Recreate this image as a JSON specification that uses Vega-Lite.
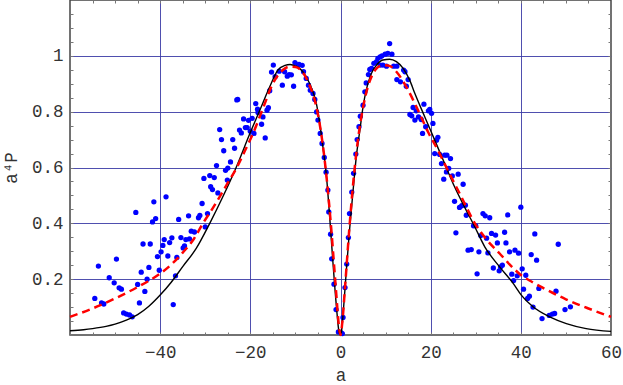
{
"$schema":"https://vega.github.io/schema/vega-lite/v6.json",
"width":541,"height":335,
"autosize":{"type":"none"},
"padding":{"left":70,"top":0,"right":12,"bottom":50},
"background":"white",
"config":{"view":{"stroke":"#444","strokeWidth":1.5},
 "axis":{"labelFont":"Liberation Mono","labelFontSize":17.5,"labelColor":"#333","titleFont":"Liberation Mono","titleFontSize":17.5,"titleColor":"#333","titleFontWeight":"normal","domain":false,"tickColor":"#777","tickSize":-3,"gridColor":"#3c3ca6","gridWidth":1,"labelFlush":false,"labelOverlap":false,"labelBound":false}},
"datasets":{
"pts":[
{"a":-54.5,"v":0.131},{"a":-53.7,"v":0.247},{"a":-53.0,"v":0.115},{"a":-52.5,"v":0.111},{"a":-51.3,"v":0.205},{"a":-49.7,"v":0.272},{"a":-50.2,"v":0.187},{"a":-49.1,"v":0.169},{"a":-48.6,"v":0.164},{"a":-48.1,"v":0.079},{"a":-47.5,"v":0.075},{"a":-46.8,"v":0.072},{"a":-46.2,"v":0.065},{"a":-45.4,"v":0.439},{"a":-45.0,"v":0.181},{"a":-44.6,"v":0.115},{"a":-44.2,"v":0.225},{"a":-43.8,"v":0.326},{"a":-43.4,"v":0.156},{"a":-42.9,"v":0.2},{"a":-42.5,"v":0.242},{"a":-42.2,"v":0.326},{"a":-41.7,"v":0.405},{"a":-41.4,"v":0.477},{"a":-41.0,"v":0.417},{"a":-40.6,"v":0.281},{"a":-40.2,"v":0.232},{"a":-39.8,"v":0.298},{"a":-39.4,"v":0.321},{"a":-39.1,"v":0.342},{"a":-38.7,"v":0.495},{"a":-38.3,"v":0.283},{"a":-37.9,"v":0.331},{"a":-37.4,"v":0.348},{"a":-37.1,"v":0.109},{"a":-36.6,"v":0.212},{"a":-36.3,"v":0.278},{"a":-35.9,"v":0.414},{"a":-35.4,"v":0.349},{"a":-34.9,"v":0.312},{"a":-34.6,"v":0.319},{"a":-34.3,"v":0.342},{"a":-33.7,"v":0.427},{"a":-33.5,"v":0.344},{"a":-33.1,"v":0.372},{"a":-32.4,"v":0.369},{"a":-31.5,"v":0.42},{"a":-31.2,"v":0.428},{"a":-30.7,"v":0.471},{"a":-30.0,"v":0.387},{"a":-29.5,"v":0.435},{"a":-28.8,"v":0.531},{"a":-28.4,"v":0.521},{"a":-27.2,"v":0.509},{"a":-25.1,"v":0.555},
{"a":-30.3,"v":0.561},{"a":-29.0,"v":0.571},{"a":-28.0,"v":0.564},{"a":-27.5,"v":0.607},{"a":-26.8,"v":0.736},{"a":-26.4,"v":0.7},{"a":-25.9,"v":0.66},{"a":-25.5,"v":0.59},{"a":-25.0,"v":0.598},{"a":-24.4,"v":0.62},{"a":-23.9,"v":0.7},{"a":-23.5,"v":0.669},{"a":-23.0,"v":0.842},{"a":-22.8,"v":0.844},{"a":-22.4,"v":0.734},{"a":-22.0,"v":0.724},{"a":-21.5,"v":0.774},{"a":-21.1,"v":0.743},{"a":-20.7,"v":0.743},{"a":-20.4,"v":0.769},{"a":-20.0,"v":0.73},{"a":-19.6,"v":0.776},{"a":-19.2,"v":0.722},{"a":-18.8,"v":0.829},{"a":-18.4,"v":0.809},{"a":-18.3,"v":0.797},{"a":-17.5,"v":0.755},{"a":-17.2,"v":0.781},{"a":-16.7,"v":0.706},{"a":-16.3,"v":0.805},{"a":-16.0,"v":0.814},{"a":-15.7,"v":0.875},{"a":-15.3,"v":0.942},{"a":-14.9,"v":0.967},{"a":-14.5,"v":0.925},{"a":-13.6,"v":0.945},{"a":-12.9,"v":0.895},{"a":-12.4,"v":0.943},{"a":-11.8,"v":0.927},{"a":-11.4,"v":0.933},{"a":-10.9,"v":0.932},{"a":-10.4,"v":0.891},{"a":-10.1,"v":0.976},{"a":-9.4,"v":0.967},
{"a":-9.2,"v":0.969},{"a":-8.5,"v":0.966},{"a":-8.2,"v":0.943},{"a":-7.6,"v":0.919},{"a":-7.1,"v":0.895},{"a":-6.7,"v":0.877},{"a":-6.1,"v":0.865},{"a":-5.7,"v":0.844},{"a":-5.3,"v":0.799},{"a":-5.0,"v":0.77},{"a":-4.5,"v":0.722},{"a":-4.1,"v":0.686},{"a":-3.6,"v":0.636},{"a":-3.2,"v":0.583},{"a":-2.8,"v":0.519},{"a":-2.6,"v":0.441},{"a":-2.2,"v":0.361},{"a":-1.95,"v":0.273},{"a":-1.44,"v":0.182},{"a":-0.99,"v":0.091},{"a":-0.47,"v":0.011},{"a":0.1,"v":0.008},{"a":0.4,"v":0.005},
{"a":0.56,"v":0.063},{"a":1.0,"v":0.17},{"a":1.38,"v":0.254},{"a":1.75,"v":0.349},{"a":2.0,"v":0.435},{"a":2.5,"v":0.512},{"a":2.9,"v":0.579},{"a":3.4,"v":0.648},{"a":3.7,"v":0.7},{"a":4.1,"v":0.746},{"a":4.4,"v":0.784},{"a":5.0,"v":0.823},{"a":5.4,"v":0.871},{"a":5.7,"v":0.903},{"a":6.2,"v":0.933},{"a":6.5,"v":0.951},{"a":6.9,"v":0.955},{"a":7.4,"v":0.973},{"a":8.0,"v":0.979},{"a":8.3,"v":0.991},{"a":8.8,"v":0.996},{"a":9.2,"v":1.0},{"a":9.9,"v":1.006},{"a":10.5,"v":1.009},{"a":10.9,"v":1.044},{"a":11.4,"v":1.006},{"a":8.8,"v":0.967},{"a":9.4,"v":0.967},{"a":10.2,"v":0.963},{"a":11.8,"v":0.963},{"a":12.5,"v":0.963},{"a":12.5,"v":0.915},{"a":13.3,"v":0.907},{"a":14.0,"v":0.949},{"a":14.3,"v":0.943},{"a":14.6,"v":0.891},{"a":15.0,"v":0.915},{"a":15.4,"v":0.79},{"a":15.8,"v":0.785},{"a":16.1,"v":0.815},{"a":16.5,"v":0.77},{"a":16.8,"v":0.803},{"a":17.3,"v":0.781},{"a":17.9,"v":0.772},{"a":18.5,"v":0.827},{"a":18.2,"v":0.722},{"a":18.9,"v":0.746},{"a":19.5,"v":0.803},{"a":19.8,"v":0.808},{"a":20.2,"v":0.794},{"a":20.5,"v":0.758},{"a":21.3,"v":0.698},{"a":21.6,"v":0.708},{"a":20.9,"v":0.65},{"a":22.0,"v":0.647},{"a":22.4,"v":0.614},{"a":23.1,"v":0.644},{"a":23.6,"v":0.644},{"a":24.4,"v":0.632},{"a":24.0,"v":0.597},{"a":23.5,"v":0.584},{"a":22.9,"v":0.558},{"a":24.8,"v":0.57},{"a":26.1,"v":0.576},{"a":27.2,"v":0.54},
{"a":25.3,"v":0.479},{"a":25.6,"v":0.366},{"a":26.4,"v":0.457},{"a":26.9,"v":0.463},{"a":27.7,"v":0.465},{"a":27.9,"v":0.429},{"a":28.3,"v":0.304},{"a":29.0,"v":0.306},{"a":29.5,"v":0.391},{"a":30.0,"v":0.391},{"a":30.3,"v":0.219},{"a":30.7,"v":0.298},{"a":31.1,"v":0.356},{"a":31.6,"v":0.435},{"a":32.1,"v":0.427},{"a":32.4,"v":0.347},{"a":32.7,"v":0.294},{"a":33.1,"v":0.42},{"a":33.5,"v":0.364},{"a":33.9,"v":0.24},{"a":34.4,"v":0.358},{"a":34.8,"v":0.33},{"a":35.2,"v":0.23},{"a":35.5,"v":0.244},{"a":35.9,"v":0.25},{"a":36.4,"v":0.368},{"a":36.7,"v":0.33},{"a":37.1,"v":0.43},{"a":37.5,"v":0.298},{"a":38.0,"v":0.218},{"a":38.4,"v":0.195},{"a":38.7,"v":0.304},{"a":39.2,"v":0.212},{"a":39.5,"v":0.293},{"a":40.0,"v":0.458},{"a":40.3,"v":0.237},{"a":40.6,"v":0.164},{"a":41.1,"v":0.214},{"a":41.5,"v":0.131},{"a":41.9,"v":0.139},{"a":42.3,"v":0.288},{"a":42.7,"v":0.1},{"a":43.1,"v":0.362},{"a":43.5,"v":0.268},{"a":44.0,"v":0.167},{"a":44.7,"v":0.059},{"a":46.3,"v":0.07},{"a":47.0,"v":0.075},{"a":47.5,"v":0.077},{"a":47.8,"v":0.157},{"a":48.3,"v":0.325},{"a":49.8,"v":0.091},{"a":51.0,"v":0.101}
],
"black":[
{"a":-60,"v":0.015},{"a":-57,"v":0.019},{"a":-55,"v":0.023},{"a":-52,"v":0.031},{"a":-50,"v":0.039},{"a":-47.5,"v":0.053},{"a":-45,"v":0.073},{"a":-42.5,"v":0.103},{"a":-40,"v":0.143},{"a":-37.5,"v":0.19},{"a":-35,"v":0.245},{"a":-32,"v":0.31},{"a":-29,"v":0.4},{"a":-26.1,"v":0.495},{"a":-23.1,"v":0.602},{"a":-20.1,"v":0.722},{"a":-17.9,"v":0.805},{"a":-15.7,"v":0.889},{"a":-13.9,"v":0.949},{"a":-12.3,"v":0.966},{"a":-11.2,"v":0.969},{"a":-9.9,"v":0.963},{"a":-9.05,"v":0.955},{"a":-7.6,"v":0.925},{"a":-6.1,"v":0.871},{"a":-5.35,"v":0.829},{"a":-4.6,"v":0.758},{"a":-3.9,"v":0.674},{"a":-3.1,"v":0.566},{"a":-2.4,"v":0.423},{"a":-1.66,"v":0.256},{"a":-0.9,"v":0.101},{"a":-0.33,"v":0.011},{"a":0,"v":0},{"a":0.2,"v":0.011},{"a":0.7,"v":0.101},{"a":1.3,"v":0.232},{"a":2.0,"v":0.375},{"a":2.8,"v":0.519},{"a":3.5,"v":0.638},{"a":4.3,"v":0.734},{"a":5.0,"v":0.817},{"a":5.7,"v":0.877},{"a":6.85,"v":0.937},{"a":8.0,"v":0.967},{"a":9.4,"v":0.985},{"a":10.9,"v":0.988},{"a":12.4,"v":0.979},{"a":13.9,"v":0.955},{"a":15.35,"v":0.913},{"a":16.5,"v":0.865},{"a":18.7,"v":0.781},{"a":20.9,"v":0.698},{"a":23.1,"v":0.614},{"a":25.3,"v":0.531},{"a":27.5,"v":0.459},{"a":29.8,"v":0.387},{"a":32.0,"v":0.316},{"a":35.3,"v":0.244},{"a":38.3,"v":0.185},{"a":40.1,"v":0.143},{"a":42.7,"v":0.101},{"a":46.4,"v":0.065},{"a":50.1,"v":0.041},{"a":54.5,"v":0.023},{"a":60,"v":0.013}
],
"red":[
{"a":-60,"v":0.065},{"a":-55,"v":0.095},{"a":-50,"v":0.131},{"a":-45,"v":0.172},{"a":-40,"v":0.22},{"a":-37.5,"v":0.253},{"a":-35,"v":0.295},{"a":-32.5,"v":0.345},{"a":-30.5,"v":0.4},{"a":-28.5,"v":0.45},{"a":-26.8,"v":0.495},{"a":-25,"v":0.545},{"a":-23.1,"v":0.597},{"a":-21.2,"v":0.66},{"a":-19.4,"v":0.722},{"a":-17.2,"v":0.812},{"a":-15.0,"v":0.901},{"a":-12.8,"v":0.949},{"a":-11.3,"v":0.961},{"a":-10,"v":0.96},{"a":-9,"v":0.952},{"a":-8,"v":0.932},{"a":-7,"v":0.9},{"a":-6,"v":0.857},{"a":-5,"v":0.79},{"a":-4,"v":0.69},{"a":-3,"v":0.55},{"a":-2,"v":0.37},{"a":-1,"v":0.16},{"a":-0.4,"v":0.04},{"a":0,"v":0},{"a":0.4,"v":0.045},{"a":1,"v":0.17},{"a":2,"v":0.39},{"a":3,"v":0.575},{"a":4,"v":0.715},{"a":5,"v":0.815},{"a":6,"v":0.885},{"a":7,"v":0.93},{"a":8,"v":0.955},{"a":9,"v":0.965},{"a":10,"v":0.966},{"a":11,"v":0.963},{"a":12.4,"v":0.943},{"a":15.0,"v":0.877},{"a":17.2,"v":0.805},{"a":19.4,"v":0.728},{"a":21.6,"v":0.662},{"a":23.8,"v":0.59},{"a":26.8,"v":0.495},{"a":29.8,"v":0.4},{"a":32.5,"v":0.34},{"a":35.3,"v":0.292},{"a":37.5,"v":0.253},{"a":40,"v":0.215},{"a":42.5,"v":0.19},{"a":45,"v":0.168},{"a":50,"v":0.128},{"a":55,"v":0.095},{"a":60,"v":0.065}
]},
"layer":[
{"data":{"name":"pts"},
 "mark":{"type":"circle","size":28,"color":"#0000ff","opacity":1},
 "encoding":{
  "x":{"field":"a","type":"quantitative","scale":{"domain":[-60,60],"nice":false,"zero":false},
   "axis":{"orient":"bottom","title":"a","titlePadding":6,"labelPadding":11,"values":[-60,-55,-50,-45,-40,-35,-30,-25,-20,-15,-10,-5,0,5,10,15,20,25,30,35,40,45,50,55,60],
    "labelExpr":"(datum.value % 20 === 0 && datum.value > -60) ? datum.label : ''",
    "grid":true,"gridOpacity":{"condition":{"test":"datum.value % 20 === 0 && abs(datum.value) < 60","value":0.9},"value":0}}},
  "y":{"field":"v","type":"quantitative","scale":{"domain":[0,1.2],"nice":false,"zero":true},
   "axis":{"orient":"left","title":"a⁴P","titlePadding":11,"labelPadding":10,"values":[0,0.05,0.1,0.15,0.2,0.25,0.3,0.35,0.4,0.45,0.5,0.55,0.6,0.65,0.7,0.75,0.8,0.85,0.9,0.95,1,1.05,1.1,1.15],
    "labelExpr":"(datum.value > 0.1 && datum.value < 1.1 && abs(datum.value*5 - round(datum.value*5)) < 0.001) ? format(datum.value, '~g') : ''",
    "grid":true,"gridOpacity":{"condition":{"test":"datum.value > 0.1 && datum.value < 1.1 && abs(datum.value*5 - round(datum.value*5)) < 0.001","value":0.9},"value":0}}}}},
{"data":{"name":"black"},
 "mark":{"type":"line","interpolate":"monotone","color":"#000000","strokeWidth":1.4},
 "encoding":{
  "x":{"field":"a","type":"quantitative","axis":{"orient":"top","title":null,"labels":false,"grid":false,"values":[-55,-50,-45,-40,-35,-30,-25,-20,-15,-10,-5,0,5,10,15,20,25,30,35,40,45,50,55]}},
  "y":{"field":"v","type":"quantitative","axis":{"orient":"right","title":null,"labels":false,"grid":false,"values":[0.05,0.1,0.15,0.2,0.25,0.3,0.35,0.4,0.45,0.5,0.55,0.6,0.65,0.7,0.75,0.8,0.85,0.9,0.95,1,1.05,1.1,1.15]}}}},
{"data":{"name":"red"},
 "mark":{"type":"line","interpolate":"monotone","color":"#ff0000","strokeWidth":2.5,"strokeDash":[8,5]},
 "encoding":{
  "x":{"field":"a","type":"quantitative","axis":null},
  "y":{"field":"v","type":"quantitative","axis":null}}}
],
"resolve":{"axis":{"x":"independent","y":"independent"}}
}
